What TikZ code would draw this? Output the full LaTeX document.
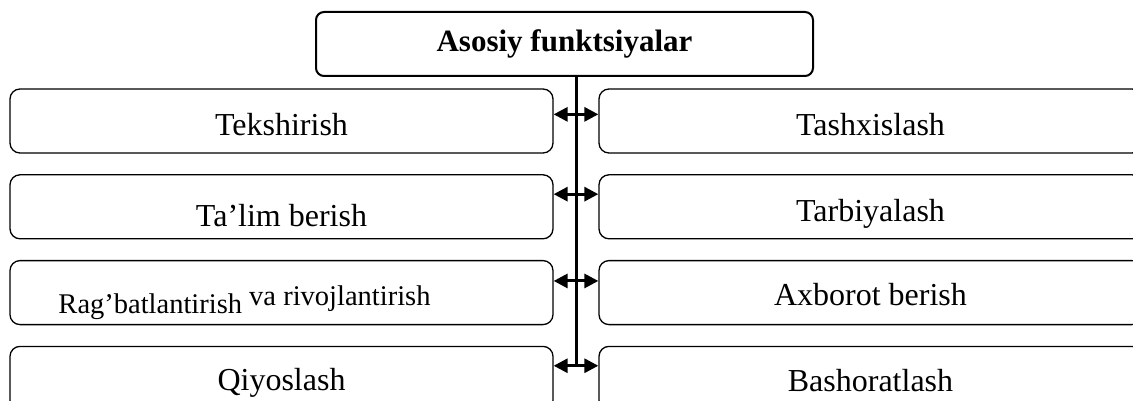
\documentclass[tikz,border=0pt]{standalone}
\usepackage{fontspec}
\setmainfont{Liberation Serif}
\usetikzlibrary{positioning,arrows.meta,calc}
\tikzstyle{func} = [rectangle,
                    rounded corners=10pt,
                    minimum width=543pt,
                    minimum height=64pt,
                    inner sep=0pt,
                    text depth=0pt,
                    draw=black,
                    line width=1.3pt,
                    font=\fontsize{32}{36}\selectfont]
\tikzstyle{heading} = [rectangle,
                      rounded corners=8pt,
                      minimum width=497pt,
                      minimum height=64pt,
                      inner sep=0pt,
                      draw=black,
                      line width=2pt,
                      font=\fontsize{31}{36}\selectfont\bfseries]
\tikzstyle{link} = [line width=3pt,
                   {Triangle[length=14pt,width=14pt]}-{Triangle[length=14pt,width=14pt]}]
\tikzstyle{layout} = [node distance=20.5pt]

\begin{document}
\begin{tikzpicture}[layout]
    \useasboundingbox (0,0) rectangle (1133pt,-401pt);
    \node (top) [heading] at (564.5pt,-44pt) {Asosiy funktsiyalar};
    \node (t1) [func, text height=30pt] at (281.5pt,-121pt) {Tekshirish};
    \node (t2) [below =of t1] [func, text height=39pt] {Ta’lim berish};
    \node (t3) [below =of t2] [func, text height=42pt, font=\fontsize{28.5}{32}\selectfont]
      {Rag’batlantirish \raisebox{8pt}{va rivojlantirish}\kern74pt};
    \node (t4) [below =of t3] [func, text height=25pt] {Qiyoslash};
    \node (d1) [func, text height=30pt] at (870.5pt,-121pt) {Tashxislash};
    \node (d2) [below =of d1] [func, text height=29pt] {Tarbiyalash};
    \node (d3) [below =of d2] [func, text height=26pt] {Axborot berish};
    \node (d4) [below =of d3] [func, text height=27pt] {Bashoratlash};
    % spine between the two columns
    \coordinate (spine) at ($(t1.east)!0.5!(d1.west)$);
    \coordinate (a1) at ([yshift=-26pt]t1.north east);
    \coordinate (a2) at ([yshift=-20pt]t2.north east);
    \coordinate (a3) at ([yshift=-21pt]t3.north east);
    \coordinate (a4) at ([yshift=-20pt]t4.north east);
    \draw[line width=3pt] (spine |- top.south) -- (spine |- a4);
    \path[link]
      (a1) edge (a1 -| d1.west)
      (a2) edge (a2 -| d2.west)
      (a3) edge (a3 -| d3.west)
      (a4) edge (a4 -| d4.west);
\end{tikzpicture}
\end{document}
